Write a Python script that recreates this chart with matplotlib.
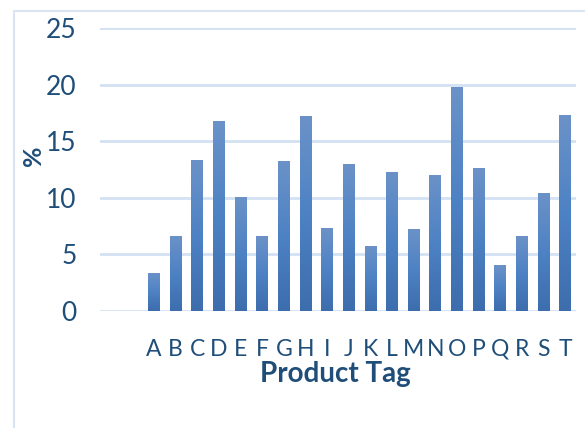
import matplotlib.pyplot as plt
import numpy as np
from matplotlib.colors import LinearSegmentedColormap
from matplotlib.patches import Rectangle

# Share of items per product tag
tags = list("ABCDEFGHIJKLMNOPQRST")
percent = [3.3, 6.6, 13.3, 16.7, 10.0, 6.6, 13.2, 17.2, 7.3, 12.9,
           5.7, 12.2, 7.2, 12.0, 19.7, 12.6, 4.0, 6.6, 10.4, 17.3]
yticks = [0, 5, 10, 15, 20, 25]

text_color = '#1f4e79'
grid_color = '#d3e1f2'
plt.rcParams['font.family'] = ['Lato', 'DejaVu Sans']

fig = plt.figure(figsize=(5.85, 4.28), dpi=100)

# Chart frame (runs past the right and bottom edges)
fig.patches.append(Rectangle((14 / 585, -0.1), 1.2, 1 - 11 / 428 + 0.1,
                             transform=fig.transFigure, fill=False,
                             edgecolor='#d9e5f4', linewidth=1.5))

ax = fig.add_axes([100 / 585, 1 - 311 / 428, 476 / 585, 283 / 428])

x = np.arange(len(tags))
bars = ax.bar(x, percent, width=0.55, color='none', edgecolor='none', zorder=3)

# Vertical gradient fill for each bar: light top, darker bottom
cmap = LinearSegmentedColormap.from_list('bar', ['#3d6dad', '#4d82c4', '#6b92c8'])
grad = np.linspace(0, 1, 256).reshape(-1, 1)
for b in bars:
    x0, w, h = b.get_x(), b.get_width(), b.get_height()
    ax.imshow(grad, cmap=cmap, origin='lower', aspect='auto',
              extent=(x0, x0 + w, 0, h), zorder=3, interpolation='bilinear')

ax.set_xlim(-2.5, len(tags) - 0.5)
ax.set_ylim(0, 25)
ax.set_yticks(yticks)
ax.set_xticks(x)
ax.set_xticklabels(tags)
ax.yaxis.grid(True, color=grid_color, linewidth=2, zorder=0)
ax.set_axisbelow(True)
for s in ax.spines.values():
    s.set_visible(False)
ax.tick_params(axis='both', length=0, colors=text_color)
ax.tick_params(axis='x', pad=20, labelsize=16.5)
ax.tick_params(axis='y', pad=17, labelsize=19)

ax.set_xlabel('Product Tag', fontsize=20, fontweight='bold', color=text_color,
              va='center')
ax.xaxis.set_label_coords(0.494, -0.222)
ax.set_ylabel('%', fontsize=18, fontweight='bold', color=text_color, va='center')
ax.yaxis.set_label_coords(-0.14, 0.55)

fig.savefig('out.png', dpi=100)
